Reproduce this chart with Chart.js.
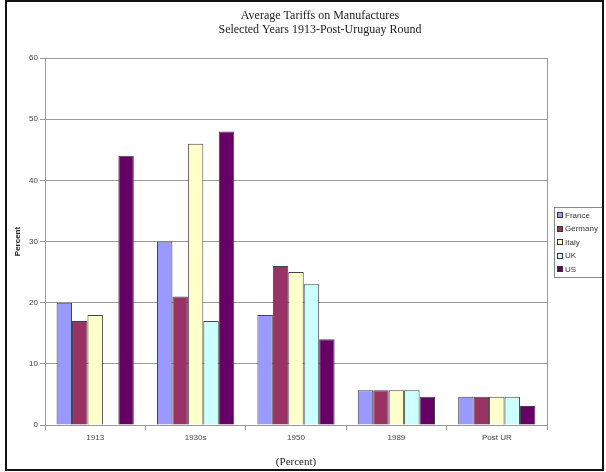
<!DOCTYPE html>
<html>
<head>
<meta charset="utf-8">
<script src="https://cdn.jsdelivr.net/npm/chart.js@4.4.0/dist/chart.umd.min.js"></script>
<style>
  html, body { margin: 0; padding: 0; background: #fff; }
  #wrap { width: 606px; height: 472px; position: relative; }
</style>
</head>
<body>
<div id="wrap"><canvas id="c" width="606" height="472"></canvas></div>
<script>
// Average tariffs on manufactures, percent
const categories = ['1913', '1930s', '1950', '1989', 'Post UR'];
const france  = [20, 30, 18, 5.7, 4.6];
const germany = [17, 21, 26, 5.7, 4.6];
const italy   = [18, 46, 25, 5.7, 4.6];
const uk      = [null, 17, 23, 5.7, 4.6];
const us      = [44, 48, 14, 4.6, 3.1];
const seriesNames  = ['France', 'Germany', 'Italy', 'UK', 'US'];
const seriesValues = [france, germany, italy, uk, us];
const seriesColors = ['#9999FF', '#993366', '#FFFFCC', '#CCFFFF', '#660066'];
const yTicks = [0, 10, 20, 30, 40, 50, 60];
const titleLines = ['Average Tariffs on Manufactures', 'Selected Years 1913-Post-Uruguay Round'];
const xTitle = '(Percent)';
const yTitle = 'Percent';

const SANS = '"Liberation Sans", Arial, sans-serif';
const SERIF = '"Liberation Serif", "Times New Roman", serif';

// Background, outer frame, two-line title, plot border and boxed legend
const decorations = {
  id: 'decorations',
  beforeDraw(chart) {
    const ctx = chart.ctx;
    ctx.save();
    ctx.fillStyle = '#fff';
    ctx.fillRect(0, 0, chart.width, chart.height);
    ctx.restore();
  },
  afterDraw(chart) {
    const ctx = chart.ctx;
    const area = chart.chartArea;
    ctx.save();

    // right edge of the plot area
    ctx.strokeStyle = '#999';
    ctx.lineWidth = 1;
    ctx.beginPath();
    ctx.moveTo(Math.round(area.right) + 0.5, area.top);
    ctx.lineTo(Math.round(area.right) + 0.5, area.bottom);
    ctx.stroke();

    // title
    ctx.fillStyle = '#222';
    ctx.font = '12px ' + SERIF;
    ctx.textAlign = 'center';
    ctx.textBaseline = 'middle';
    ctx.fillText(titleLines[0], 320, 16);
    ctx.fillText(titleLines[1], 320, 30);

    // legend
    const lx = 554, ly = 207, lw = 48, lh = 70;
    ctx.strokeStyle = '#888';
    ctx.strokeRect(lx + 0.5, ly + 0.5, lw, lh);
    ctx.font = '8px ' + SANS;
    ctx.textAlign = 'left';
    chart.data.datasets.forEach((ds, i) => {
      const cy = ly + 8 + i * 13.5;
      ctx.fillStyle = ds.backgroundColor;
      ctx.fillRect(lx + 3, Math.round(cy - 3), 6, 6);
      ctx.strokeStyle = '#333';
      ctx.strokeRect(lx + 3.5, Math.round(cy - 3) + 0.5, 5, 5);
      ctx.fillStyle = '#333';
      ctx.fillText(ds.label, lx + 11, cy + 0.5);
    });

    // outer frame
    ctx.strokeStyle = '#111';
    ctx.lineWidth = 2;
    ctx.strokeRect(6, 1, 597, 469);
    ctx.restore();
  }
};

new Chart(document.getElementById('c'), {
  type: 'bar',
  data: {
    labels: categories,
    datasets: seriesNames.map((name, i) => ({
      label: name,
      data: seriesValues[i],
      backgroundColor: seriesColors[i],
      borderColor: '#444',
      borderWidth: 1,
      categoryPercentage: 5 / 6.5,
      barPercentage: 1
    }))
  },
  options: {
    responsive: false,
    animation: false,
    devicePixelRatio: 1,
    layout: { padding: { top: 58, right: 59, bottom: 0, left: 0 } },
    plugins: {
      legend: { display: false },
      title: { display: false },
      tooltip: { enabled: false }
    },
    scales: {
      x: {
        offset: true,
        grid: { drawOnChartArea: false, drawTicks: true, tickLength: 5, color: '#999', offset: true },
        border: { display: true, color: '#999' },
        ticks: { color: '#444', font: { family: SANS, size: 8 }, padding: 3, maxRotation: 0 },
        title: { display: true, text: xTitle, color: '#222', font: { family: SERIF, size: 11 }, padding: { top: 0, bottom: 3 } },
        afterFit(scale) { scale.height = 47; }
      },
      y: {
        min: 0,
        max: 60,
        afterBuildTicks(scale) { scale.ticks = yTicks.map(v => ({ value: v })); },
        grid: { color: '#999', lineWidth: 1, tickLength: 5 },
        border: { display: true, color: '#999' },
        ticks: { color: '#444', font: { family: SANS, size: 8 }, padding: 2 },
        title: { display: true, text: yTitle, color: '#222', font: { family: SANS, size: 8, weight: 'bold' }, padding: { top: 13, bottom: 0 } },
        afterFit(scale) { scale.width = 45; }
      }
    }
  },
  plugins: [decorations]
});
</script>
</body>
</html>
